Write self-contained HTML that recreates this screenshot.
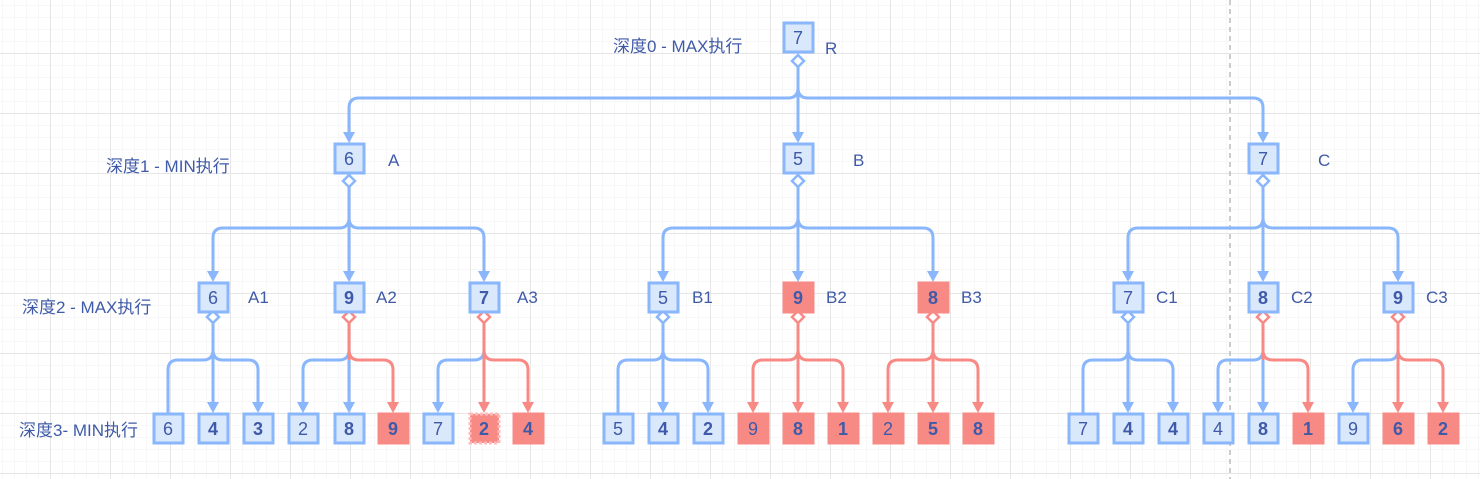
<!DOCTYPE html>
<html><head><meta charset="utf-8"><style>
html,body{margin:0;padding:0;}
body{width:1480px;height:479px;overflow:hidden;background-color:#fff;
background-image:linear-gradient(to right,#e6e6e6 1px,transparent 1px),linear-gradient(to bottom,#e6e6e6 1px,transparent 1px),linear-gradient(to right,#f7f7f7 1px,transparent 1px),linear-gradient(to bottom,#f7f7f7 1px,transparent 1px);
background-size:60px 60px,60px 60px,12px 12px,12px 12px;background-position:50px 53px,50px 53px,2px 5px,2px 5px;}
svg{position:absolute;left:0;top:0;}
text{font-family:"Liberation Sans","Noto Sans CJK SC",sans-serif;font-size:17px;fill:#3f5aa8;}
.n{text-anchor:middle;font-size:18px;}
.b{font-weight:bold;}
.eb{fill:none;stroke:#8ab6fb;stroke-width:3;}
.er{fill:none;stroke:#f88a86;stroke-width:3;}
.ab{fill:#8ab6fb;}.ar{fill:#f88a86;}
.bx{fill:#dae8fc;stroke:#8ab6fb;stroke-width:3;}
.rx{fill:#f88a86;stroke:#f88a86;stroke-width:3;}
.db{fill:#fff;stroke:#8ab6fb;stroke-width:2.5;}
.dr{fill:#fff;stroke:#f88a86;stroke-width:2.5;}
</style></head><body>
<svg width="1480" height="479" viewBox="0 0 1480 479">
<line x1="1230" y1="0" x2="1230" y2="479" stroke="#aaa" stroke-width="1.2" stroke-dasharray="5,4"/>
<text x="613" y="52">深度0 - MAX执行</text>
<text x="106" y="172">深度1 - MIN执行</text>
<text x="22" y="313">深度2 - MAX执行</text>
<text x="19" y="436">深度3- MIN执行</text>
<text x="825" y="54">R</text>
<text x="388" y="166">A</text><text x="853" y="166">B</text><text x="1318" y="166">C</text>
<text x="248" y="303">A1</text><text x="376" y="303">A2</text><text x="517" y="303">A3</text>
<text x="692" y="303">B1</text><text x="826" y="303">B2</text><text x="961" y="303">B3</text>
<text x="1156" y="303">C1</text><text x="1291" y="303">C2</text><text x="1426" y="303">C3</text>

<path class="eb" d="M798 66V98M798 88Q798 98 788 98H359Q349 98 349 108V133M798 88Q798 98 808 98H1253Q1263 98 1263 108V133M798 98V133"/>
<polygon class="ab" points="343,132 355,132 349,143"/><polygon class="ab" points="792,132 804,132 798,143"/><polygon class="ab" points="1257,132 1269,132 1263,143"/>
<path class="eb" d="M349 186V228M349 218Q349 228 339 228H223Q213 228 213 238V272M349 218Q349 228 359 228H474Q484 228 484 238V272M349 228V272
M798 186V228M798 218Q798 228 788 228H673Q663 228 663 238V272M798 218Q798 228 808 228H923Q933 228 933 238V272M798 228V272
M1263 186V228M1263 218Q1263 228 1253 228H1138Q1128 228 1128 238V272M1263 218Q1263 228 1273 228H1388Q1398 228 1398 238V272M1263 228V272"/>
<g class="ab">
<polygon points="207,271 219,271 213,282"/><polygon points="343,271 355,271 349,282"/><polygon points="478,271 490,271 484,282"/>
<polygon points="657,271 669,271 663,282"/><polygon points="792,271 804,271 798,282"/><polygon points="927,271 939,271 933,282"/>
<polygon points="1122,271 1134,271 1128,282"/><polygon points="1257,271 1269,271 1263,282"/><polygon points="1392,271 1404,271 1398,282"/>
</g>
<path class="eb" d="M213 322V360M213 350Q213 360 203 360H178Q168 360 168 370V413M213 350Q213 360 223 360H248Q258 360 258 370V403M213 360V403
M349 350Q349 360 339 360H313Q303 360 303 370V403M349 360V403
M484 350Q484 360 474 360H448Q438 360 438 370V403
M663 322V360M663 350Q663 360 653 360H628Q618 360 618 370V413M663 350Q663 360 673 360H698Q708 360 708 370V403M663 360V403
M1128 322V360M1128 350Q1128 360 1118 360H1093Q1083 360 1083 370V413M1128 350Q1128 360 1138 360H1163Q1173 360 1173 370V403M1128 360V403
M1263 350Q1263 360 1253 360H1228Q1218 360 1218 370V403M1263 360V403
M1398 350Q1398 360 1388 360H1363Q1353 360 1353 370V403"/>
<path class="er" d="M349 322V360M349 350Q349 360 359 360H383Q393 360 393 370V403
M484 322V403M484 350Q484 360 494 360H518Q528 360 528 370V403
M798 322V403M798 350Q798 360 788 360H763Q753 360 753 370V403M798 350Q798 360 808 360H833Q843 360 843 370V403
M933 322V403M933 350Q933 360 923 360H898Q888 360 888 370V403M933 350Q933 360 943 360H968Q978 360 978 370V403
M1263 322V360M1263 350Q1263 360 1273 360H1298Q1308 360 1308 370V403
M1398 322V403M1398 350Q1398 360 1408 360H1433Q1443 360 1443 370V403"/>
<g class="ab">
<polygon points="207,402 219,402 213,413"/><polygon points="252,402 264,402 258,413"/>
<polygon points="297,402 309,402 303,413"/><polygon points="343,402 355,402 349,413"/>
<polygon points="432,402 444,402 438,413"/>
<polygon points="657,402 669,402 663,413"/><polygon points="702,402 714,402 708,413"/>
<polygon points="1122,402 1134,402 1128,413"/><polygon points="1167,402 1179,402 1173,413"/>
<polygon points="1212,402 1224,402 1218,413"/><polygon points="1257,402 1269,402 1263,413"/>
<polygon points="1347,402 1359,402 1353,413"/>
</g>
<g class="ar">
<polygon points="387,402 399,402 393,413"/><polygon points="478,402 490,402 484,413"/><polygon points="522,402 534,402 528,413"/>
<polygon points="747,402 759,402 753,413"/><polygon points="792,402 804,402 798,413"/><polygon points="837,402 849,402 843,413"/>
<polygon points="882,402 894,402 888,413"/><polygon points="927,402 939,402 933,413"/><polygon points="972,402 984,402 978,413"/>
<polygon points="1302,402 1314,402 1308,413"/><polygon points="1392,402 1404,402 1398,413"/><polygon points="1437,402 1449,402 1443,413"/>
</g>
<polygon class="db" points="798,55 804,61 798,67 792,61"/>
<polygon class="db" points="349,175 355,181 349,187 343,181"/>
<polygon class="db" points="798,175 804,181 798,187 792,181"/>
<polygon class="db" points="1263,175 1269,181 1263,187 1257,181"/>
<polygon class="db" points="213,311 219,317 213,323 207,317"/>
<polygon class="dr" points="349,311 355,317 349,323 343,317"/>
<polygon class="dr" points="484,311 490,317 484,323 478,317"/>
<polygon class="db" points="663,311 669,317 663,323 657,317"/>
<polygon class="dr" points="798,311 804,317 798,323 792,317"/>
<polygon class="dr" points="933,311 939,317 933,323 927,317"/>
<polygon class="db" points="1128,311 1134,317 1128,323 1122,317"/>
<polygon class="dr" points="1263,311 1269,317 1263,323 1257,317"/>
<polygon class="dr" points="1398,311 1404,317 1398,323 1392,317"/>
<rect class="bx" x="784" y="23" width="29" height="29"/><text class="n" x="798" y="44">7</text>
<rect class="bx" x="335" y="144" width="29" height="29"/><text class="n" x="349" y="165">6</text>
<rect class="bx" x="784" y="144" width="29" height="29"/><text class="n" x="798" y="165">5</text>
<rect class="bx" x="1249" y="144" width="29" height="29"/><text class="n" x="1263" y="165">7</text>
<rect class="bx" x="199" y="283" width="29" height="29"/><text class="n" x="213" y="304">6</text>
<rect class="bx" x="335" y="283" width="29" height="29"/><text class="n b" x="349" y="304">9</text>
<rect class="bx" x="470" y="283" width="29" height="29"/><text class="n b" x="484" y="304">7</text>
<rect class="bx" x="649" y="283" width="29" height="29"/><text class="n" x="663" y="304">5</text>
<rect class="rx" x="784" y="283" width="29" height="29"/><text class="n b" x="798" y="304">9</text>
<rect class="rx" x="919" y="283" width="29" height="29"/><text class="n b" x="933" y="304">8</text>
<rect class="bx" x="1114" y="283" width="29" height="29"/><text class="n" x="1128" y="304">7</text>
<rect class="bx" x="1249" y="283" width="29" height="29"/><text class="n b" x="1263" y="304">8</text>
<rect class="bx" x="1384" y="283" width="29" height="29"/><text class="n b" x="1398" y="304">9</text>
<rect class="bx" x="154" y="414" width="29" height="29"/><text class="n" x="168" y="435">6</text>
<rect class="bx" x="199" y="414" width="29" height="29"/><text class="n b" x="213" y="435">4</text>
<rect class="bx" x="244" y="414" width="29" height="29"/><text class="n b" x="258" y="435">3</text>
<rect class="bx" x="289" y="414" width="29" height="29"/><text class="n" x="303" y="435">2</text>
<rect class="bx" x="335" y="414" width="29" height="29"/><text class="n b" x="349" y="435">8</text>
<rect class="rx" x="379" y="414" width="29" height="29"/><text class="n b" x="393" y="435">9</text>
<rect class="bx" x="424" y="414" width="29" height="29"/><text class="n" x="438" y="435">7</text>
<rect class="rx" x="470" y="414" width="29" height="29" stroke-dasharray="3,2" style="stroke:#fbb"/><text class="n b" x="484" y="435">2</text>
<rect class="rx" x="514" y="414" width="29" height="29"/><text class="n b" x="528" y="435">4</text>
<rect class="bx" x="604" y="414" width="29" height="29"/><text class="n" x="618" y="435">5</text>
<rect class="bx" x="649" y="414" width="29" height="29"/><text class="n b" x="663" y="435">4</text>
<rect class="bx" x="694" y="414" width="29" height="29"/><text class="n b" x="708" y="435">2</text>
<rect class="rx" x="739" y="414" width="29" height="29"/><text class="n" x="753" y="435">9</text>
<rect class="rx" x="784" y="414" width="29" height="29"/><text class="n b" x="798" y="435">8</text>
<rect class="rx" x="829" y="414" width="29" height="29"/><text class="n b" x="843" y="435">1</text>
<rect class="rx" x="874" y="414" width="29" height="29"/><text class="n" x="888" y="435">2</text>
<rect class="rx" x="919" y="414" width="29" height="29"/><text class="n b" x="933" y="435">5</text>
<rect class="rx" x="964" y="414" width="29" height="29"/><text class="n b" x="978" y="435">8</text>
<rect class="bx" x="1069" y="414" width="29" height="29"/><text class="n" x="1083" y="435">7</text>
<rect class="bx" x="1114" y="414" width="29" height="29"/><text class="n b" x="1128" y="435">4</text>
<rect class="bx" x="1159" y="414" width="29" height="29"/><text class="n b" x="1173" y="435">4</text>
<rect class="bx" x="1204" y="414" width="29" height="29"/><text class="n" x="1218" y="435">4</text>
<rect class="bx" x="1249" y="414" width="29" height="29"/><text class="n b" x="1263" y="435">8</text>
<rect class="rx" x="1294" y="414" width="29" height="29"/><text class="n b" x="1308" y="435">1</text>
<rect class="bx" x="1339" y="414" width="29" height="29"/><text class="n" x="1353" y="435">9</text>
<rect class="rx" x="1384" y="414" width="29" height="29"/><text class="n b" x="1398" y="435">6</text>
<rect class="rx" x="1429" y="414" width="29" height="29"/><text class="n b" x="1443" y="435">2</text>
</svg>
</body></html>
